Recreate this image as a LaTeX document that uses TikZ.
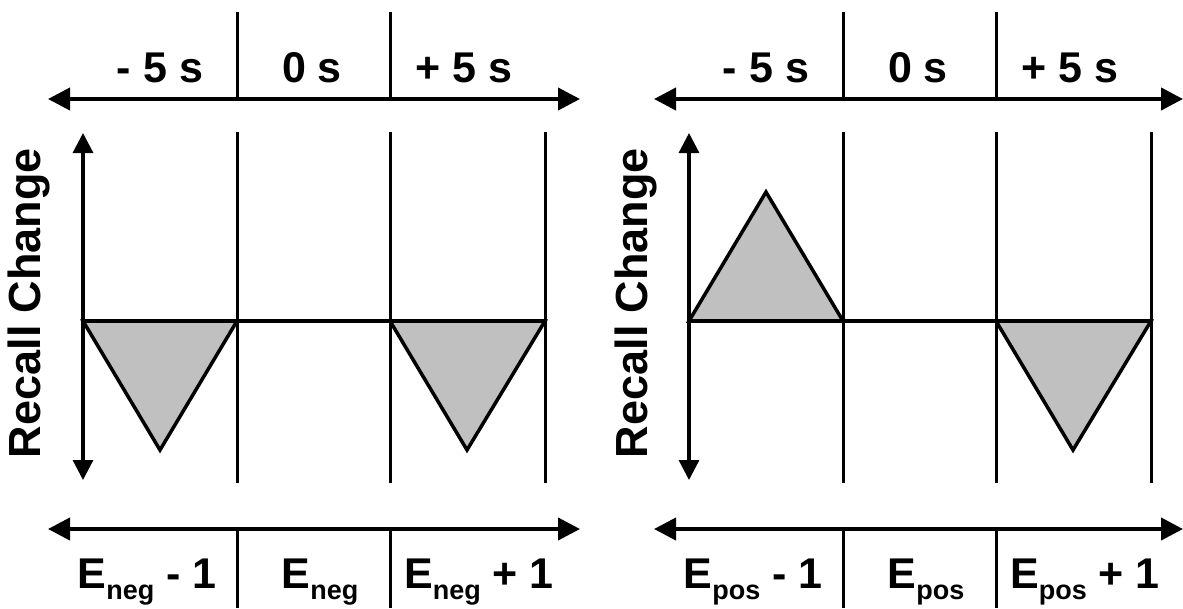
\documentclass[tikz,border=0pt]{standalone}
\usepackage{fontspec}
\setmainfont{Liberation Sans}
\usetikzlibrary{arrows.meta}
\definecolor{trigray}{RGB}{192,192,192}
\newcommand\subE[1]{E\raisebox{-11pt}{\fontsize{27}{27}\selectfont #1}}
\tikzset{
  axis/.style={line width=4pt,{Triangle[length=22pt,width=22pt]}-{Triangle[length=22pt,width=22pt]}},
  vaxis/.style={line width=3.2pt,{Triangle[length=20pt,width=20pt]}-{Triangle[length=20pt,width=20pt]}},
  divider/.style={line width=3pt},
  zeroline/.style={line width=3.5pt},
  tri/.style={draw,line width=3.5pt,fill=trigray,line join=miter},
  lab/.style={font=\bfseries\fontsize{43}{50}\selectfont,anchor=base,inner sep=0pt},
  ylab/.style={font=\bfseries\fontsize{45}{50}\selectfont,rotate=90,inner sep=0pt}
}
\begin{document}
\begin{tikzpicture}[x=1pt,y=-1pt]
\useasboundingbox (0,0) rectangle (1183,608);
% ---------- left panel ----------
\coordinate (LTa) at (48,99);   \coordinate (LTb) at (580,99);
\coordinate (LBa) at (48,529);  \coordinate (LBb) at (580,529);
\coordinate (LD1t) at (237,12); \coordinate (LD1b) at (237,99);
\coordinate (LD2t) at (390,12); \coordinate (LD2b) at (390,99);
\coordinate (LE1t) at (237,529); \coordinate (LE1b) at (237,608);
\coordinate (LE2t) at (390,529); \coordinate (LE2b) at (390,608);
\coordinate (LYa) at (83,480);  \coordinate (LYb) at (83,133);
\coordinate (LV1t) at (237,132); \coordinate (LV1b) at (237,483);
\coordinate (LV2t) at (390,132); \coordinate (LV2b) at (390,483);
\coordinate (LV3t) at (545,132); \coordinate (LV3b) at (545,483);
\coordinate (LZ0) at (83,321);  \coordinate (LZ3) at (545,321);
\coordinate (LZ1) at (237,321); \coordinate (LZ2) at (390,321);
\coordinate (LP1) at (160,450); \coordinate (LP2) at (467,450);

\draw[tri] (LZ0) -- (LZ1) -- (LP1) -- cycle;
\draw[tri] (LZ2) -- (LZ3) -- (LP2) -- cycle;
\draw[zeroline] (LZ0) -- (LZ3);
\draw[divider] (LV1t) -- (LV1b);
\draw[divider] (LV2t) -- (LV2b);
\draw[divider] (LV3t) -- (LV3b);
\draw[vaxis] (LYa) -- (LYb);
\draw[divider] (LD1t) -- (LD1b);
\draw[divider] (LD2t) -- (LD2b);
\draw[divider] (LE1t) -- (LE1b);
\draw[divider] (LE2t) -- (LE2b);
\draw[axis] (LTa) -- (LTb);
\draw[axis] (LBa) -- (LBb);

\node[lab] (Lm5) at (160,82) {- 5 s};
\node[lab] (L0) at (312,82) {0 s};
\node[lab] (Lp5) at (464,82) {+ 5 s};
\node[lab] (Lem) at (147,588) {\subE{neg} - 1};
\node[lab] (Le0) at (320,588) {\subE{neg}};
\node[lab] (Lep) at (479,588) {\subE{neg} + 1};
\node[ylab] (Lyl) at (29,303) {Recall Change};

% ---------- right panel ----------
\coordinate (RTa) at (654,99);   \coordinate (RTb) at (1183,99);
\coordinate (RBa) at (654,529);  \coordinate (RBb) at (1183,529);
\coordinate (RD1t) at (843,12); \coordinate (RD1b) at (843,99);
\coordinate (RD2t) at (996,12); \coordinate (RD2b) at (996,99);
\coordinate (RE1t) at (843,529); \coordinate (RE1b) at (843,608);
\coordinate (RE2t) at (996,529); \coordinate (RE2b) at (996,608);
\coordinate (RYa) at (689,480);  \coordinate (RYb) at (689,133);
\coordinate (RV1t) at (843,132); \coordinate (RV1b) at (843,483);
\coordinate (RV2t) at (996,132); \coordinate (RV2b) at (996,483);
\coordinate (RV3t) at (1151,132); \coordinate (RV3b) at (1151,483);
\coordinate (RZ0) at (689,321);  \coordinate (RZ3) at (1151,321);
\coordinate (RZ1) at (843,321); \coordinate (RZ2) at (996,321);
\coordinate (RP1) at (766,192); \coordinate (RP2) at (1073,450);

\draw[tri] (RZ0) -- (RZ1) -- (RP1) -- cycle;
\draw[tri] (RZ2) -- (RZ3) -- (RP2) -- cycle;
\draw[zeroline] (RZ0) -- (RZ3);
\draw[divider] (RV1t) -- (RV1b);
\draw[divider] (RV2t) -- (RV2b);
\draw[divider] (RV3t) -- (RV3b);
\draw[vaxis] (RYa) -- (RYb);
\draw[divider] (RD1t) -- (RD1b);
\draw[divider] (RD2t) -- (RD2b);
\draw[divider] (RE1t) -- (RE1b);
\draw[divider] (RE2t) -- (RE2b);
\draw[axis] (RTa) -- (RTb);
\draw[axis] (RBa) -- (RBb);

\node[lab] (Rm5) at (766,82) {- 5 s};
\node[lab] (R0) at (918,82) {0 s};
\node[lab] (Rp5) at (1070,82) {+ 5 s};
\node[lab] (Rem) at (753,588) {\subE{pos} - 1};
\node[lab] (Re0) at (926,588) {\subE{pos}};
\node[lab] (Rep) at (1085,588) {\subE{pos} + 1};
\node[ylab] (Ryl) at (636,303) {Recall Change};
\end{tikzpicture}
\end{document}
